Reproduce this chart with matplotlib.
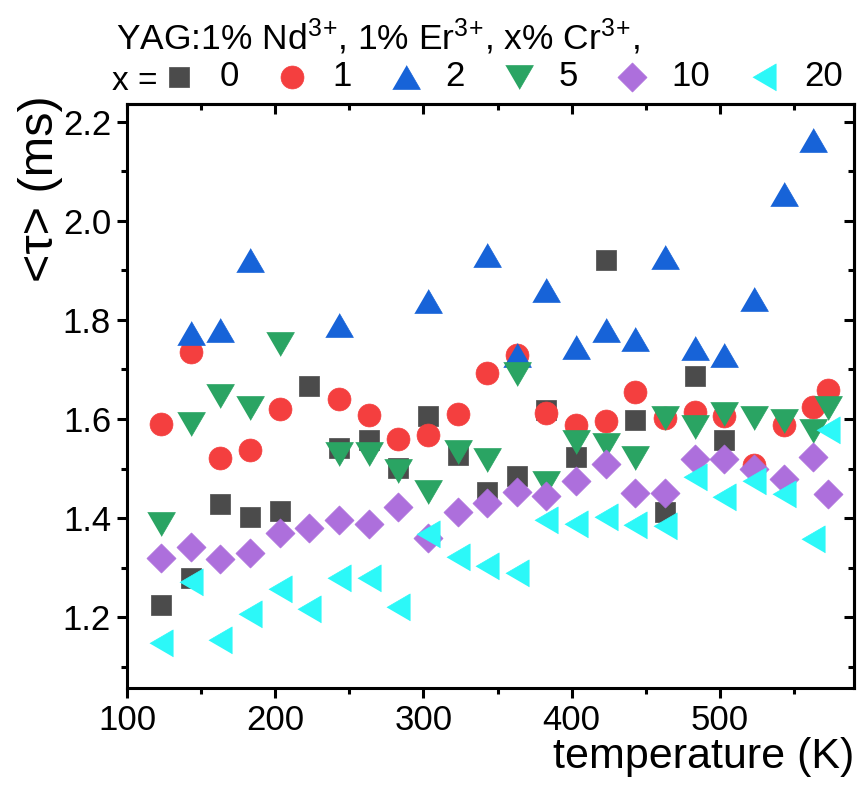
import numpy as np
import matplotlib
matplotlib.use("Agg")
import matplotlib.pyplot as plt
from matplotlib.ticker import MultipleLocator

plt.rcParams['font.family'] = ['Liberation Sans', 'DejaVu Sans']
plt.rcParams['mathtext.fontset'] = 'custom'
plt.rcParams['mathtext.rm'] = 'Liberation Sans'
plt.rcParams['mathtext.it'] = 'Liberation Sans:italic'

# temperatures (K) and lifetimes (ms) for each Cr3+ concentration
T_all = [123, 143, 163, 183, 203, 223, 243, 263, 283, 303, 323, 343,
         363, 383, 403, 423, 443, 463, 483, 503, 523, 543, 563, 573]

T_x0 = T_all[:20]
tau_x0 = [1.225, 1.279, 1.429, 1.402, 1.414, 1.667, 1.541, 1.558, 1.501, 1.607,
          1.528, 1.453, 1.484, 1.618, 1.524, 1.920, 1.598, 1.413, 1.686, 1.558]

T_x1 = [123, 143, 163, 183, 203] + T_all[6:]
tau_x1 = [1.589, 1.735, 1.521, 1.537, 1.620, 1.640, 1.608, 1.560, 1.568, 1.610,
          1.693, 1.729, 1.612, 1.588, 1.595, 1.655, 1.601, 1.615, 1.606, 1.507,
          1.588, 1.625, 1.659]

T_x2 = [143, 163, 183, 243, 303, 343, 363, 383, 403, 423, 443, 463, 483, 503,
        523, 543, 563]
tau_x2 = [1.773, 1.780, 1.920, 1.790, 1.838, 1.932, 1.729, 1.860, 1.745, 1.780,
          1.761, 1.927, 1.743, 1.729, 1.842, 2.055, 2.164]

T_x5 = [123, 143, 163, 183, 203] + T_all[6:]
tau_x5 = [1.388, 1.589, 1.647, 1.623, 1.752, 1.530, 1.530, 1.494, 1.453, 1.534,
          1.518, 1.690, 1.471, 1.554, 1.548, 1.521, 1.601, 1.584, 1.610, 1.602,
          1.596, 1.575, 1.622]

T_x10 = T_all
tau_x10 = [1.319, 1.342, 1.318, 1.329, 1.370, 1.380, 1.396, 1.388, 1.423, 1.359,
           1.413, 1.430, 1.453, 1.445, 1.475, 1.509, 1.450, 1.450, 1.519, 1.519,
           1.499, 1.479, 1.524, 1.449]

T_x20 = T_all
tau_x20 = [1.147, 1.270, 1.154, 1.207, 1.256, 1.217, 1.278, 1.278, 1.221, 1.367,
           1.321, 1.304, 1.290, 1.396, 1.388, 1.403, 1.386, 1.384, 1.483, 1.443,
           1.475, 1.448, 1.357, 1.577]

labels = ['0', '1', '2', '5', '10', '20']

# origin-style triangles are a bit wider than tall
tri_up = [(-1, -0.86), (1, -0.86), (0, 0.86)]
tri_down = [(-1, 0.86), (1, 0.86), (0, -0.86)]
tri_left = [(-0.86, 0), (0.86, 1), (0.86, -1)]

series = [
    (T_x0, tau_x0, 's', '#4b4b4b', 14.4),
    (T_x1, tau_x1, 'o', '#f43f3f', 16.5),
    (T_x2, tau_x2, tri_up, '#1763d8', 20.0),
    (T_x5, tau_x5, tri_down, '#2aa463', 20.0),
    (T_x10, tau_x10, 'D', '#ad6fdc', 14.8),
    (T_x20, tau_x20, tri_left, '#2cf8f8', 19.5),
]

fig = plt.figure(figsize=(8.66, 7.85), dpi=100)
ax = fig.add_axes([0.1467, 0.1236, 0.8395, 0.744])

handles = []
for (T, tau, mk, col, ms), lab in zip(series, labels):
    h = ax.scatter(T, tau, marker=mk, s=ms ** 2, color=col, edgecolors=col,
                   linewidths=0.5, label=lab, zorder=3)
    handles.append(h)

ax.set_xlim(100, 590.5)
ax.set_ylim(1.057, 2.236)
ax.xaxis.set_major_locator(MultipleLocator(100))
ax.xaxis.set_minor_locator(MultipleLocator(50))
ax.yaxis.set_major_locator(MultipleLocator(0.2))
ax.yaxis.set_minor_locator(MultipleLocator(0.1))
ax.yaxis.set_major_formatter(plt.FormatStrFormatter('%.1f'))

for sp in ax.spines.values():
    sp.set_linewidth(2.2)
ax.tick_params(which='major', direction='out', length=7.5, width=2.2,
               labelsize=25, pad=4)
ax.tick_params(which='minor', direction='out', length=4, width=2.2)

# mirrored ticks on top and right, pointing inward
secx = ax.secondary_xaxis('top')
secx.xaxis.set_major_locator(MultipleLocator(100))
secx.xaxis.set_minor_locator(MultipleLocator(50))
secx.tick_params(which='major', direction='in', length=7.5, width=2.2, labeltop=False)
secx.tick_params(which='minor', direction='in', length=4.5, width=2.2)
secx.spines['top'].set_linewidth(2.2)
secy = ax.secondary_yaxis('right')
secy.yaxis.set_major_locator(MultipleLocator(0.2))
secy.yaxis.set_minor_locator(MultipleLocator(0.1))
secy.tick_params(which='major', direction='in', length=7.5, width=2.2, labelright=False)
secy.tick_params(which='minor', direction='in', length=4.5, width=2.2)
secy.spines['right'].set_linewidth(2.2)

ax.set_xlabel('temperature (K)', fontsize=31, loc='right', labelpad=0)
ax.set_ylabel('<τ> (ms)', fontsize=35, loc='top')
ax.yaxis.set_label_coords(-0.088, 1.015)

# header text and legend row
fig.text(116 / 866, 1 - 49 / 785,
         'YAG:1% Nd$^{3}$$^{+}$, 1% Er$^{3}$$^{+}$, x% Cr$^{3}$$^{+}$,',
         fontsize=25.5, va='baseline')
fig.text(112 / 866, 1 - 90 / 785, 'x =', fontsize=24, va='baseline')
fig.legend(handles, labels, loc='center left',
           bbox_to_anchor=(162 / 866, 1 - 77 / 785), ncol=6, frameon=False,
           fontsize=25, handlelength=1.0, handletextpad=0.65, columnspacing=1.05,
           borderpad=0, borderaxespad=0, scatterpoints=1)

fig.savefig('out.png', dpi=100)
